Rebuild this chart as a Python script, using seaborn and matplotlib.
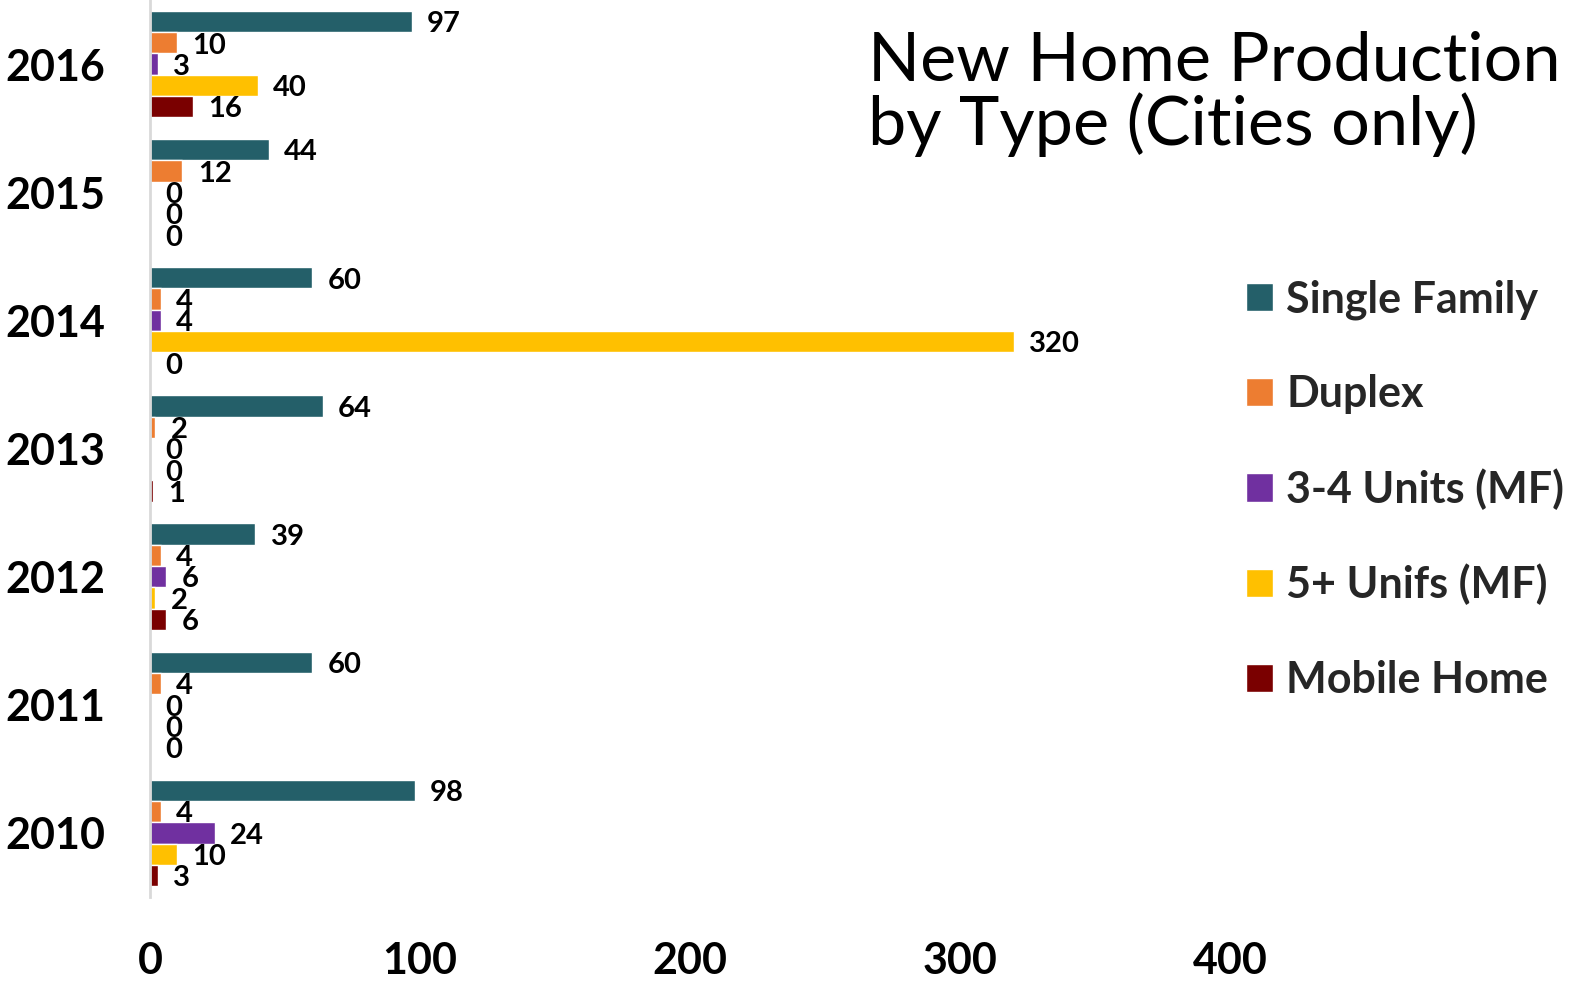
import matplotlib
matplotlib.use("Agg")
import matplotlib.pyplot as plt
import seaborn as sns
import pandas as pd

years = ["2016", "2015", "2014", "2013", "2012", "2011", "2010"]
types = ["Single Family", "Duplex", "3-4 Units (MF)", "5+ Unifs (MF)", "Mobile Home"]
single_family = [97, 44, 60, 64, 39, 60, 98]
duplex = [10, 12, 4, 2, 4, 4, 4]
units_3_4 = [3, 0, 4, 0, 6, 0, 24]
units_5_plus = [40, 0, 320, 0, 2, 0, 10]
mobile_home = [16, 0, 0, 1, 6, 0, 3]
x_ticks = [0, 100, 200, 300, 400]

colors = ["#245F69", "#ED7D31", "#7030A0", "#FFC000", "#7A0000"]

series = [single_family, duplex, units_3_4, units_5_plus, mobile_home]
rows = []
for t, vals in zip(types, series):
    for y, v in zip(years, vals):
        rows.append({"Year": y, "Type": t, "Units": v})
df = pd.DataFrame(rows)

sns.set_theme(style="white")
plt.rcParams["font.family"] = ["Lato", "DejaVu Sans"]

fig = plt.figure(figsize=(15.71, 9.83), dpi=100)
ax = fig.add_axes([150 / 1571, 1 - 897 / 983, 1080 / 1571, 897 / 983])

sns.barplot(data=df, y="Year", x="Units", hue="Type", order=years,
            hue_order=types, palette=colors, saturation=1, orient="h",
            width=0.83, edgecolor="white", linewidth=1, ax=ax, legend=True)

for cont in ax.containers:
    labels = ax.bar_label(cont, fmt="{:.0f}", padding=11, fontsize=21,
                          fontweight="bold", color="black")
    for lab in labels:
        x_off, y_off = lab.xyann
        lab.xyann = (x_off, y_off - 2)

ax.set_xlim(0, 400)
ax.set_xticks(x_ticks)
ax.set_xticklabels([str(v) for v in x_ticks], fontsize=31, fontweight="bold")
for lbl in ax.get_yticklabels():
    lbl.set_fontsize(31)
    lbl.set_fontweight("bold")
ax.tick_params(axis="x", length=0, pad=32, colors="black")
ax.tick_params(axis="y", length=0, pad=32, colors="black")
ax.set_xlabel("")
ax.set_ylabel("")
for side in ["top", "right", "bottom"]:
    ax.spines[side].set_visible(False)
ax.spines["left"].set_color("#D9D9D9")
ax.spines["left"].set_linewidth(2)

handles, labels = ax.get_legend_handles_labels()
ax.get_legend().remove()
fig.legend(handles, labels, loc="upper left",
           bbox_to_anchor=(1246 / 1571, 1 - 279 / 983),
           frameon=False, prop={"size": 31, "weight": "bold"},
           handlelength=0.63, handleheight=0.63, handletextpad=0.3,
           labelspacing=1.26, borderaxespad=0, borderpad=0)

# Two-line title, sized so the first line spans the available width
title_x = 868 / 1571
t1 = fig.text(title_x, 1 - 80 / 983, "New Home Production", fontsize=52,
              ha="left", va="baseline", color="black")
t2 = fig.text(title_x, 1 - 145 / 983, "by Type (Cities only)", fontsize=52,
              ha="left", va="baseline", color="black")
renderer = fig.canvas.get_renderer()
w = t1.get_window_extent(renderer).width
size = 52 * 692 / w
t1.set_fontsize(size)
t2.set_fontsize(size)

fig.savefig("out.png", dpi=100)
